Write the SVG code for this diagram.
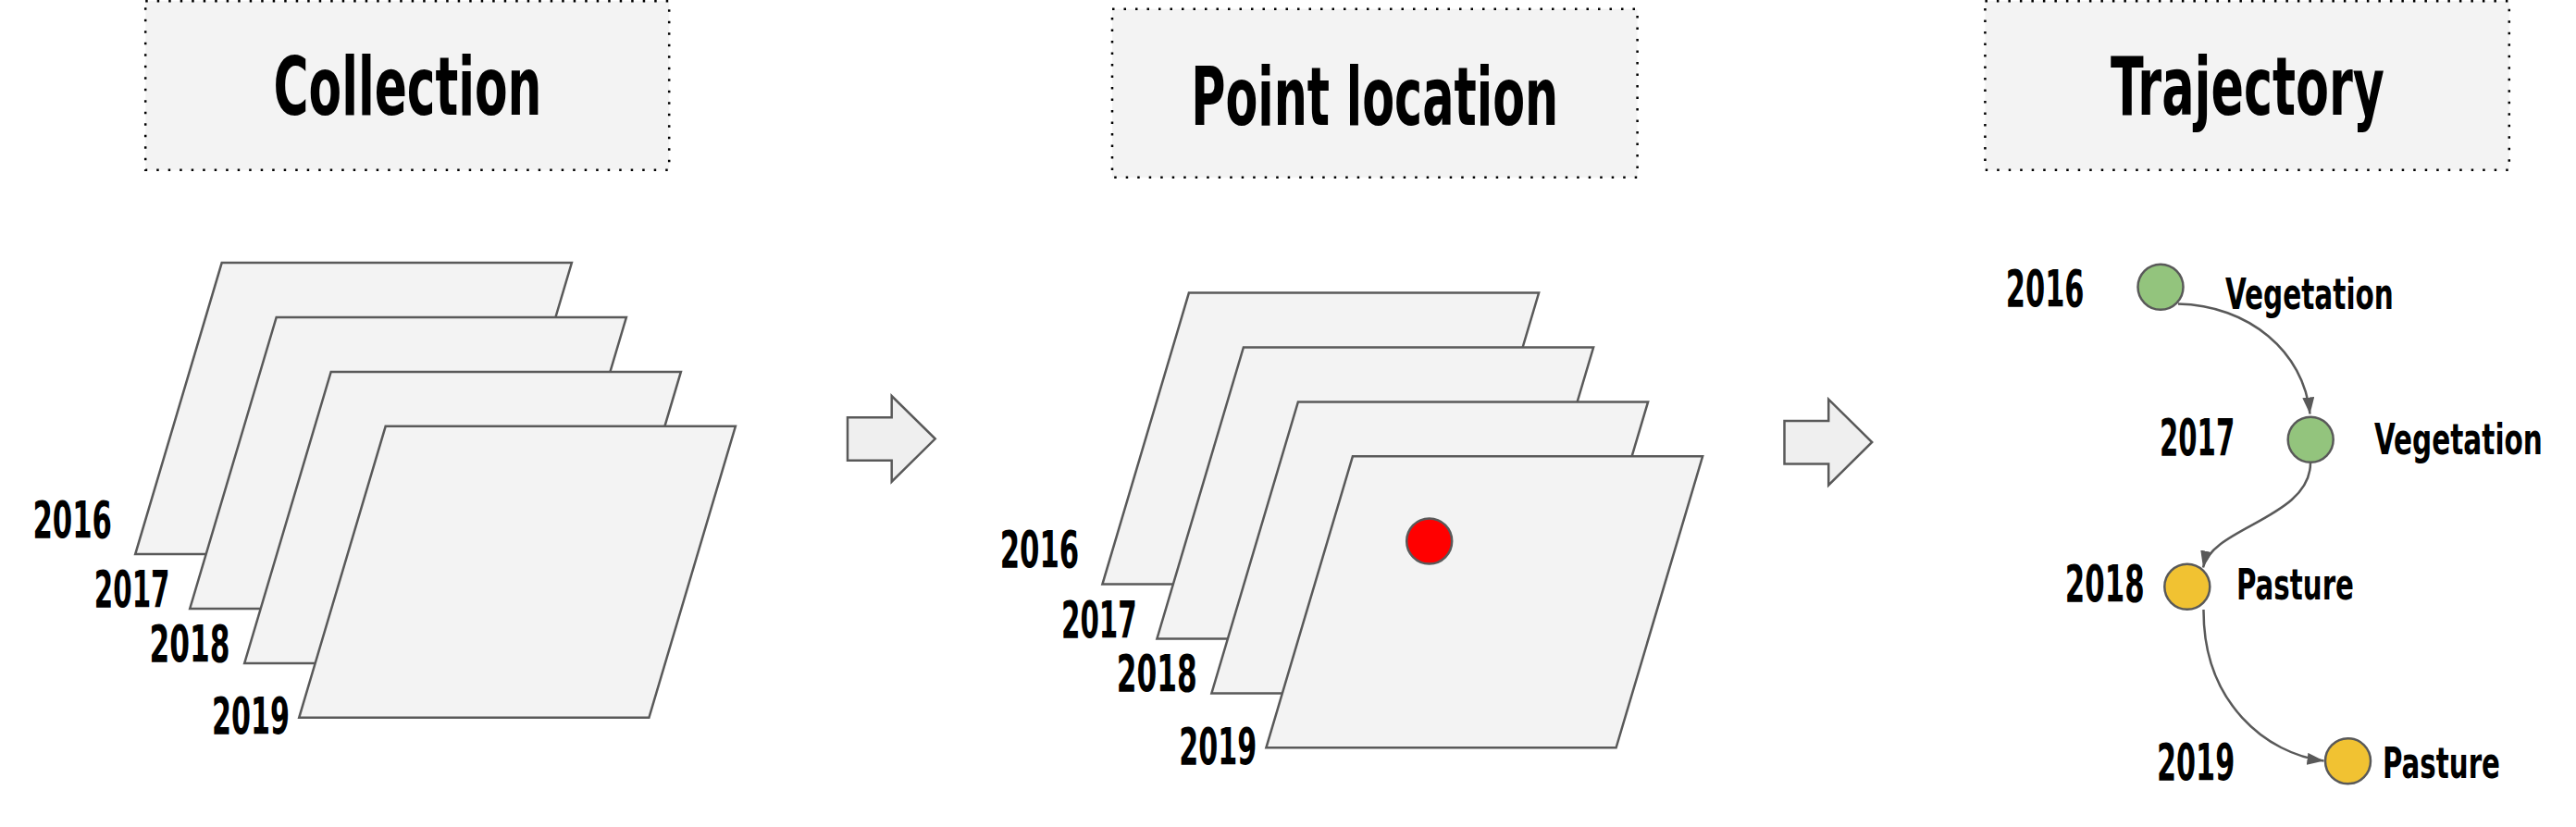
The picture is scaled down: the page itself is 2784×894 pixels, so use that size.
<svg xmlns="http://www.w3.org/2000/svg" width="2784" height="894" viewBox="0 0 2784 894">
<style>
.title-box{fill:#f3f3f3;stroke:#000;stroke-width:2.5;stroke-dasharray:2.5 10}
.title{font-family:"Liberation Sans Narrow","DejaVu Sans Condensed","Liberation Sans",sans-serif;font-weight:bold;font-size:88px;fill:#000}
.year{font-family:"Liberation Sans Narrow","DejaVu Sans Condensed","Liberation Sans",sans-serif;font-weight:bold;font-size:56px;fill:#000}
.cls{font-family:"Liberation Sans Narrow","DejaVu Sans Condensed","Liberation Sans",sans-serif;font-weight:bold;font-size:47px;fill:#000}
.sheet{fill:#f3f3f3;stroke:#595959;stroke-width:2.5;stroke-linejoin:miter}
.bigarrow{fill:#efefef;stroke:#595959;stroke-width:2.5}
.node{stroke:#595959;stroke-width:2.5}
.veg{fill:#93c47d}
.pas{fill:#f1c232}
.edge{fill:none;stroke:#595959;stroke-width:2.5}
</style>
<defs>
<marker id="ah" markerUnits="userSpaceOnUse" markerWidth="20" markerHeight="14" refX="18" refY="6.5" orient="auto">
<path d="M0,0 L18,6.5 L0,13 z" fill="#595959"/>
</marker>
<g id="stack">
<polygon class="sheet" points="239.7,284.1 617.9,284.1 524.4,599.1 146.2,599.1"/>
<polygon class="sheet" points="298.7,343 676.9,343 583.4,658 205.2,658"/>
<polygon class="sheet" points="357.7,401.9 735.9,401.9 642.4,716.9 264.2,716.9"/>
<polygon class="sheet" points="416.7,460.8 794.9,460.8 701.4,775.8 323.2,775.8"/>
<text class="year" transform="translate(35.5,580.7) scale(0.6,1)" textLength="142.5" lengthAdjust="spacingAndGlyphs">2016</text>
<text class="year" transform="translate(101.8,656) scale(0.6,1)" textLength="136.2" lengthAdjust="spacingAndGlyphs">2017</text>
<text class="year" transform="translate(161.6,714.8) scale(0.6,1)" textLength="145" lengthAdjust="spacingAndGlyphs">2018</text>
<text class="year" transform="translate(229,793) scale(0.6,1)" textLength="140" lengthAdjust="spacingAndGlyphs">2019</text>
</g>
</defs>

<g id="collection">
<rect class="title-box" x="157.2" y="1.2" width="566" height="182.5"/>
<text class="title" transform="translate(440.5,124.4) scale(0.65,1)" text-anchor="middle" textLength="446" lengthAdjust="spacingAndGlyphs">Collection</text>
<use href="#stack"/>
</g>

<g id="arrow1">
<polygon class="bigarrow" points="916,451.3 963.7,451.3 963.7,428 1010.7,474.3 963.7,520.7 963.7,497.7 916,497.7"/>
</g>

<g id="point-location">
<rect class="title-box" x="1202" y="9.7" width="567.6" height="182"/>
<text class="title" transform="translate(1485.7,135.2) scale(0.65,1)" text-anchor="middle" textLength="610.8" lengthAdjust="spacingAndGlyphs">Point location</text>
<use href="#stack" transform="translate(1045.2,32.5)"/>
<circle cx="1544.7" cy="585" r="24.5" fill="#ff0000" stroke="#595959" stroke-width="2.5"/>
</g>

<g id="arrow2">
<polygon class="bigarrow" transform="translate(1012.5,3.7)" points="916,451.3 963.7,451.3 963.7,428 1010.7,474.3 963.7,520.7 963.7,497.7 916,497.7"/>
</g>

<g id="trajectory">
<rect class="title-box" x="2145.4" y="1.2" width="566.4" height="182.5"/>
<text class="title" transform="translate(2429,124.4) scale(0.65,1)" text-anchor="middle" textLength="455.4" lengthAdjust="spacingAndGlyphs">Trajectory</text>
</g>

<g id="connectors">
<path class="edge" d="M2354,328.5 C2430,330 2490,380 2496.5,447.5" marker-end="url(#ah)"/>
<path class="edge" d="M2497,500.5 C2497,560 2390,570 2381,613.5" marker-end="url(#ah)"/>
<path class="edge" d="M2381.5,659 C2381,760 2450,815 2511.5,822.5" marker-end="url(#ah)"/>
</g>

<g id="node-2016">
<circle class="node veg" cx="2335" cy="310.3" r="24.5"/>
<text class="year" transform="translate(2167.8,330.9) scale(0.6,1)" textLength="141.2" lengthAdjust="spacingAndGlyphs">2016</text>
<text class="cls" transform="translate(2405,333.7) scale(0.69,1)" textLength="263.5" lengthAdjust="spacingAndGlyphs">Vegetation</text>
</g>
<g id="node-2017">
<circle class="node veg" cx="2497.2" cy="475.2" r="24.5"/>
<text class="year" transform="translate(2334,491.7) scale(0.6,1)" textLength="135.3" lengthAdjust="spacingAndGlyphs">2017</text>
<text class="cls" transform="translate(2566,490.6) scale(0.69,1)" textLength="263.5" lengthAdjust="spacingAndGlyphs">Vegetation</text>
</g>
<g id="node-2018">
<circle class="node pas" cx="2363.8" cy="634.2" r="24.5"/>
<text class="year" transform="translate(2231.8,650.3) scale(0.6,1)" textLength="143" lengthAdjust="spacingAndGlyphs">2018</text>
<text class="cls" transform="translate(2417,647.5) scale(0.69,1)" textLength="184" lengthAdjust="spacingAndGlyphs">Pasture</text>
</g>
<g id="node-2019">
<circle class="node pas" cx="2537.5" cy="822.7" r="24.5"/>
<text class="year" transform="translate(2331,843.1) scale(0.6,1)" textLength="140.3" lengthAdjust="spacingAndGlyphs">2019</text>
<text class="cls" transform="translate(2575,841.4) scale(0.69,1)" textLength="184" lengthAdjust="spacingAndGlyphs">Pasture</text>
</g>
</svg>
